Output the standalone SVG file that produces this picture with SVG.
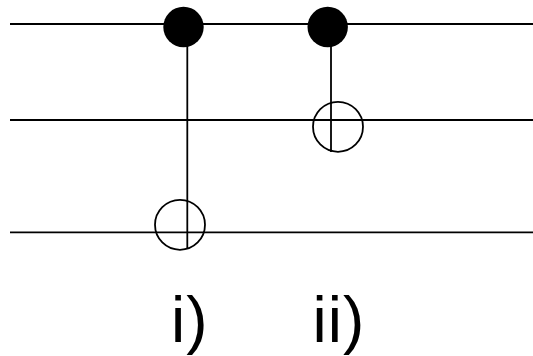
<svg xmlns="http://www.w3.org/2000/svg" width="533" height="356" viewBox="0 0 533 356">
<style>
.w{stroke:#000;stroke-width:1.8;fill:none}
.t{font-family:"Liberation Sans",Arial,sans-serif;font-size:64px;letter-spacing:1px;fill:#000}
</style>
<rect width="533" height="356" fill="#fff"/>
<g id="connectors">
<line class="w" x1="10" y1="24" x2="533" y2="24"/>
<line class="w" x1="10" y1="120" x2="533" y2="120"/>
<line class="w" x1="10" y1="232.3" x2="533" y2="232.3"/>
<line class="w" x1="187.3" y1="24" x2="187.3" y2="249"/>
<line class="w" x1="331" y1="24" x2="331" y2="152"/>
</g>
<g id="control-i"><circle cx="183.5" cy="27" r="20.2" fill="#000"/></g>
<g id="control-ii"><circle cx="327.7" cy="27" r="20.2" fill="#000"/></g>
<g id="target-i"><circle class="w" cx="180" cy="224.8" r="25"/></g>
<g id="target-ii"><circle class="w" cx="338" cy="126.8" r="25"/></g>
<g id="label-i"><text class="t" x="171" y="342">i)</text></g>
<g id="label-ii"><text class="t" x="312.5" y="342">ii)</text></g>
</svg>
